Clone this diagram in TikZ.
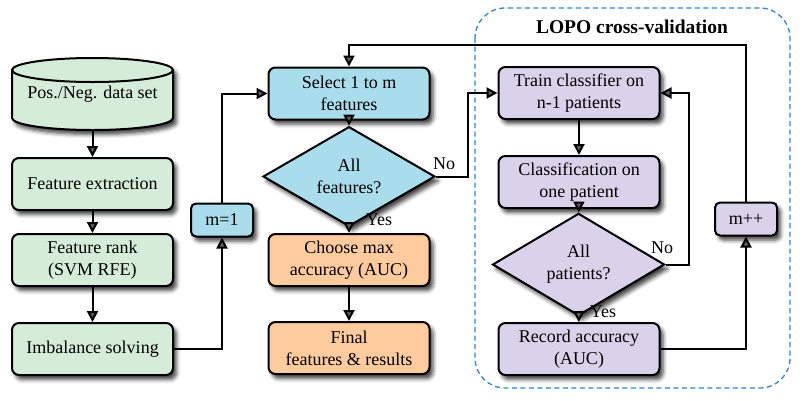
\documentclass[tikz,border=0pt]{standalone}
\usepackage{fontspec}
\setmainfont{Liberation Serif}
\usetikzlibrary{arrows.meta,shapes.geometric,shadows.blur}
\definecolor{cgreen}{RGB}{212,236,216}
\definecolor{cblue}{RGB}{170,221,235}
\definecolor{corange}{RGB}{253,203,158}
\definecolor{cpurple}{RGB}{217,210,234}
\definecolor{cdash}{RGB}{46,134,200}
\tikzset{
  shad/.style={blur shadow={shadow xshift=3.5pt,shadow yshift=-4.5pt,shadow blur radius=4pt,shadow opacity=75}},
  box/.style={draw=black,line width=2pt,rounded corners=7pt,minimum width=161pt,minimum height=52pt,align=center,inner sep=2pt,shad,
    font=\fontsize{18}{22}\selectfont},
  smallbox/.style={draw=black,line width=2pt,rounded corners=5pt,minimum width=62pt,minimum height=33pt,align=center,inner sep=2pt,shad,
    font=\fontsize{18}{22}\selectfont},
  dec/.style={draw=black,line width=2pt,diamond,minimum width=172pt,minimum height=67pt,inner sep=0pt,align=center,shad,
    font=\fontsize{18}{22}\selectfont},
  arr/.style={line width=2pt,-{Triangle[length=11pt,width=11pt]}},
  lbl/.style={font=\fontsize{18}{22}\selectfont,inner sep=0pt},
}
\begin{document}
\begin{tikzpicture}[x=1pt,y=-1pt]
\useasboundingbox (0,0) rectangle (800,400);
% dashed frame
\draw[cdash,line width=1.3pt,rounded corners=30pt,dash pattern=on 5pt off 3.5pt] (475,8) rectangle (790,388);
\node[font=\fontsize{19.5}{22}\selectfont\bfseries] (title) at (632,27) {LOPO cross-validation};
% cylinder
\path[shad,fill=cgreen,draw=black,line width=2pt] (12,70) -- (12,118) arc (180:360:80.5pt and 12pt) -- (173,70) arc (0:180:80.5pt and 12pt) -- cycle;
\draw[line width=2pt] (12,70) arc (180:360:80.5pt and 12pt);
\node[minimum width=161pt,minimum height=72pt,font=\fontsize{18}{22}\selectfont] (data) at (92.5,94) {\raisebox{-5pt}{Pos./Neg. data set}};
% left column
\node[box,fill=cgreen] (fext) at (92.5,184) {Feature extraction};
\node[box,fill=cgreen] (frank) at (92.5,260) {Feature rank\\(SVM RFE)};
\node[box,fill=cgreen] (imb) at (92.5,349) {Imbalance solving};
\node[smallbox,fill=cblue] (m1) at (222,220) {m=1};
% middle column
\node[box,fill=cblue] (sel) at (349,93.5) {Select 1 to m\\features};
\node[dec,fill=cblue] (dfeat) at (349,176.5) {All\\features?};
\node[box,fill=corange] (choose) at (349,260) {Choose max\\accuracy (AUC)};
\node[box,fill=corange] (final) at (349,348) {Final\\features \& results};
% right column
\node[box,fill=cpurple] (train) at (579,93) {Train classifier on\\n-1 patients};
\node[box,fill=cpurple] (clas) at (579,182) {Classification on\\one patient};
\node[dec,fill=cpurple] (dpat) at (578.5,264.5) {All\\patients?};
\node[box,fill=cpurple] (rec) at (579,349) {Record accuracy\\(AUC)};
\node[smallbox,fill=cpurple] (mpp) at (746,219) {m++};
\coordinate (topc) at (746,45);
% connectors
\draw[arr] (data) -- (fext);
\draw[arr] (fext) -- (frank);
\draw[arr] (frank) -- (imb);
\draw[arr] (imb.east) -| (m1.south);
\draw[arr] (m1.north) |- (sel.west);
\draw[arr] (sel) -- (dfeat);
\draw[arr] (dfeat) -- (choose);
\draw[arr] (choose) -- (final);
\draw[arr] (dfeat.east) -- ++(32,0) |- (train.west);
\draw[arr] (train) -- (clas);
\draw[arr] (clas) -- (dpat);
\draw[arr] (dpat) -- (rec);
\draw[arr] (dpat.east) -- ++(23,0) |- (train.east);
\draw[arr] (rec.east) -| (mpp.south);
\draw[arr] (mpp.north) -- (topc) -| (sel.north);
% labels
\node[lbl] (no1) at (444,164) {No};
\node[lbl] (yes1) at (379,220) {Yes};
\node[lbl] (no2) at (662,248) {No};
\node[lbl] (yes2) at (603,312) {Yes};
\end{tikzpicture}
\end{document}
